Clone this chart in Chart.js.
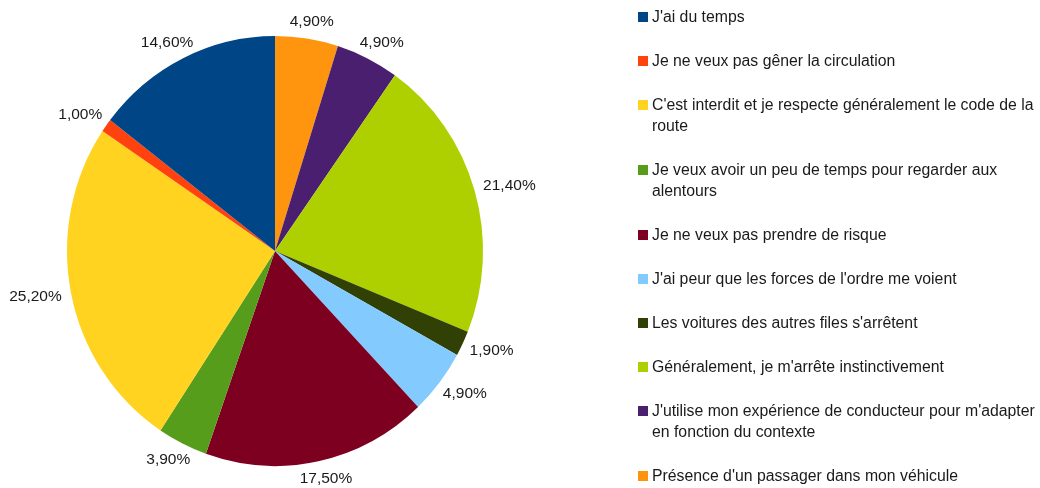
<!DOCTYPE html>
<html lang="fr">
<head>
<meta charset="utf-8">
<title>Raisons de l'arrêt</title>
<script src="https://cdn.jsdelivr.net/npm/chart.js@4.4.1/dist/chart.umd.min.js"></script>
<style>
    html, body {
        margin: 0;
        padding: 0;
        background: #ffffff;
        overflow: hidden;
    }
    #wrap {
        position: relative;
        width: 1040px;
        height: 488px;
    }
    #pieChart {
        position: absolute;
        left: 0;
        top: 0;
    }
    #legend {
        position: absolute;
        left: 638px;
        top: 6px;
        width: 402px;
        margin: 0;
        padding: 0;
        list-style: none;
        font-family: "Liberation Sans", Arial, sans-serif;
        font-size: 15.8px;
        line-height: 21px;
        color: #1a1a1a;
    }
    #legend li {
        position: relative;
        padding-left: 14px;
        margin-bottom: 23px;
    }
    #legend .box {
        position: absolute;
        left: 0;
        top: 6px;
        width: 10px;
        height: 10px;
    }
</style>
</head>
<body>
<div id="wrap">
    <canvas id="pieChart" width="1040" height="488"></canvas>
    <ul id="legend"></ul>
</div>
<script>
// --- Data (legend order) ---
const categories = [
    "J'ai du temps",
    "Je ne veux pas gêner la circulation",
    "C'est interdit et je respecte généralement le code de la route",
    "Je veux avoir un peu de temps pour regarder aux alentours",
    "Je ne veux pas prendre de risque",
    "J'ai peur que les forces de l'ordre me voient",
    "Les voitures des autres files s'arrêtent",
    "Généralement, je m'arrête instinctivement",
    "J'utilise mon expérience de conducteur pour m'adapter en fonction du contexte",
    "Présence d'un passager dans mon véhicule"
];
const percentages = [14.6, 1.0, 25.2, 3.9, 17.5, 4.9, 1.9, 21.4, 4.9, 4.9];
const sliceColors = [
    '#004586', '#ff420e', '#ffd320', '#579d1c', '#7e0021',
    '#83caff', '#314004', '#aecf00', '#4b1f6f', '#ff950e'
];

const FONT = '"Liberation Sans", Arial, sans-serif';
// the original pie is a little narrower than it is tall
const X_SQUASH = 208 / 215;

// The original pie runs counter-clockwise from the top, Chart.js runs clockwise,
// so feed the slices in reverse order.
const pieLabels = categories.slice().reverse();
const pieValues = percentages.slice().reverse();
const pieColors = sliceColors.slice().reverse();

function formatPercent(v) {
    return v.toFixed(2).replace('.', ',') + '%';
}

// --- Squash the pie horizontally ---
const squash = {
    id: 'squash',
    beforeDatasetsDraw(chart) {
        const arc = chart.getDatasetMeta(0).data[0];
        const ctx = chart.ctx;
        ctx.save();
        ctx.translate(arc.x, arc.y);
        ctx.scale(X_SQUASH, 1);
        ctx.translate(-arc.x, -arc.y);
    },
    afterDatasetsDraw(chart) {
        chart.ctx.restore();
    }
};

// --- Outside value labels ---
const outsideLabels = {
    id: 'outsideLabels',
    afterDatasetsDraw(chart) {
        const ctx = chart.ctx;
        const meta = chart.getDatasetMeta(0);
        const values = chart.data.datasets[0].data;
        ctx.save();
        ctx.font = '15.5px ' + FONT;
        ctx.fillStyle = '#1a1a1a';
        ctx.textAlign = 'center';
        ctx.textBaseline = 'middle';
        meta.data.forEach((arc, i) => {
            const { x, y, startAngle, endAngle, outerRadius } = arc.getProps(
                ['x', 'y', 'startAngle', 'endAngle', 'outerRadius'], true);
            const mid = (startAngle + endAngle) / 2;
            const ux = Math.cos(mid);
            const uy = Math.sin(mid);
            const text = formatPercent(values[i]);
            const w = ctx.measureText(text).width;
            const h = 15;
            const tx = x + ux * (outerRadius * X_SQUASH + 10) + ux * w / 2;
            const ty = y + uy * (outerRadius + 10) + uy * h / 2;
            ctx.fillText(text, tx, ty);
        });
        ctx.restore();
    }
};

new Chart(document.getElementById('pieChart').getContext('2d'), {
    type: 'pie',
    data: {
        labels: pieLabels,
        datasets: [{
            data: pieValues,
            backgroundColor: pieColors,
            borderWidth: 0,
            hoverOffset: 0
        }]
    },
    options: {
        responsive: false,
        animation: false,
        layout: {
            padding: { left: 60, top: 36, right: 550, bottom: 22 }
        },
        plugins: {
            legend: { display: false },
            tooltip: { enabled: false }
        }
    },
    plugins: [squash, outsideLabels]
});

// --- HTML legend, same order as the original ---
const legendEl = document.getElementById('legend');
categories.forEach((name, i) => {
    const li = document.createElement('li');
    const box = document.createElement('span');
    box.className = 'box';
    box.style.background = sliceColors[i];
    li.appendChild(box);
    li.appendChild(document.createTextNode(name));
    legendEl.appendChild(li);
});
</script>
</body>
</html>
